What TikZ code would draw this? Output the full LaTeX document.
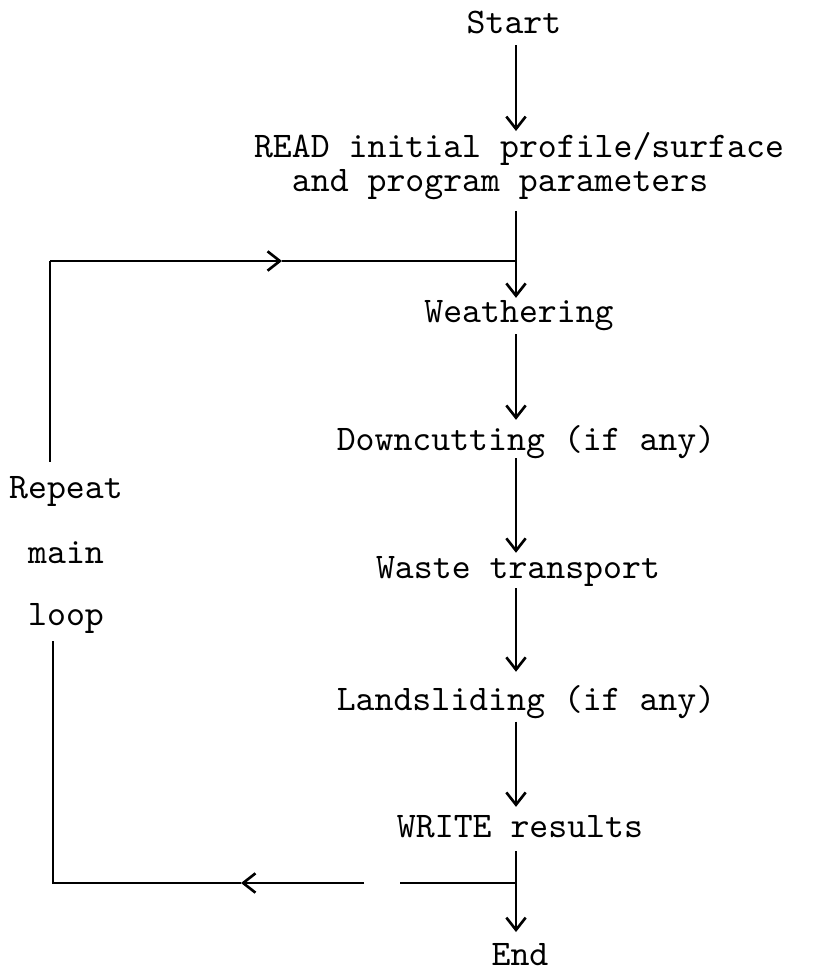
\documentclass[tikz,border=0pt]{standalone}
\usepackage{tikz}
\usetikzlibrary{arrows.meta}

\tikzset{
  flowtext/.style={font=\fontsize{10.25pt}{9.7pt}\selectfont\ttfamily, inner sep=0pt, anchor=base, text height=6.5pt, text depth=2pt},
  readtext/.style={font=\fontsize{10.25pt}{9.7pt}\selectfont\ttfamily, inner sep=0pt, anchor=north, align=left},
  flowline/.style={-{Straight Barb[length=3.5pt,width=5.5pt]}}
}

\begin{document}
\begin{tikzpicture}[x=0.01cm, y=-0.01cm, line width=0.75pt]
\useasboundingbox (0,0) rectangle (817,969);
\coordinate (spine) at (516,0);

\node[flowtext] (start) at (514,33) {Start};
\node[readtext] (read) at (519,131) {READ initial profile/surface\\\phantom{xx}and program parameters};
\node[flowtext] (weath) at (519,322) {Weathering};
\node[flowtext] (down) at (526,450) {Downcutting (if any)};
\node[flowtext] (waste) at (518,578) {Waste transport};
\node[flowtext] (land) at (526,710) {Landsliding (if any)};
\node[flowtext] (write) at (520,837) {WRITE results};
\node[flowtext] (end) at (520,965) {End};

\node[flowtext] (rep) at (66,498) {Repeat};
\node[flowtext] (repmain) at (66,563) {main};
\node[flowtext] (reploop) at (66,625) {loop};

\draw[flowline, shorten <=1.1pt] (start.south -| spine) -- (read.north -| spine);
\draw[flowline, shorten <=2.8pt] (read.south -| spine) -- (weath.north -| spine);
\draw[flowline, shorten <=1.1pt, shorten >=1.7pt] (weath.south -| spine) -- (down.north -| spine);
\draw[flowline, shorten >=0.3pt] (down.south -| spine) -- (waste.north -| spine);
\draw[flowline, shorten <=0.6pt, shorten >=4pt] (waste.south -| spine) -- (land.north -| spine);
\draw[flowline, shorten <=0.9pt, shorten >=1.7pt] (land.south -| spine) -- (write.north -| spine);
\draw[flowline, shorten <=1.7pt, shorten >=2.5pt] (write.south -| spine) -- (end.north -| spine);

\coordinate (jtop) at (516,261);
\coordinate (jbot) at (516,883);
\coordinate (ctl) at (50,261);
\coordinate (cbl) at (53,883);
\coordinate (tiptop) at (282,261);
\coordinate (tipbot) at (241,883);
\coordinate (gapr) at (400,883);
\coordinate (gapl) at (364,883);

\draw[shorten <=3.4pt] (rep.north -| ctl) -- (ctl);
\draw[flowline] (ctl) -- (tiptop);
\draw (tiptop) -- (jtop);
\draw (jbot) -- (gapr);
\draw[flowline] (gapl) -- (tipbot);
\draw[shorten >=2.3pt] (tipbot) -- (cbl) -- (reploop.south -| cbl);
\end{tikzpicture}
\end{document}
